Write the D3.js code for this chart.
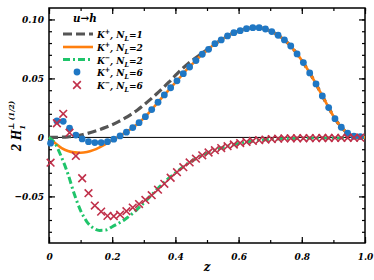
<!DOCTYPE html>
<html>
<head>
<meta charset="utf-8">
<script src="https://cdn.jsdelivr.net/npm/d3@7"></script>
<style>
body { margin: 0; background: #fff; }
</style>
</head>
<body>
<div id="chart"></div>
<script>
// line curves are sampled on zLine, symbols on zDots
var zLine = [0, 0.02, 0.04, 0.06, 0.08, 0.10, 0.12, 0.14, 0.16, 0.18, 0.20, 0.22, 0.24, 0.26, 0.28, 0.30,
    0.32, 0.34, 0.36, 0.38, 0.40, 0.42, 0.44, 0.46, 0.48, 0.50, 0.52, 0.54, 0.56, 0.58, 0.60, 0.62, 0.64,
    0.66, 0.68, 0.70, 0.72, 0.74, 0.76, 0.78, 0.80, 0.82, 0.84, 0.86, 0.88, 0.90, 0.92, 0.94, 0.96, 0.98, 1.00];

var kPlus1 = [0, 0, 0.0002, 0.0005, 0.001, 0.002, 0.0033, 0.0048, 0.0066, 0.0086, 0.0108, 0.0134, 0.0163,
    0.0196, 0.0233, 0.0275, 0.032, 0.0368, 0.0418, 0.047, 0.0525, 0.0578, 0.0625, 0.0667, 0.0705, 0.0742,
    0.0783, 0.0818, 0.0852, 0.0882, 0.0901, 0.0918, 0.0928, 0.0931, 0.0923, 0.0903, 0.0874, 0.0837, 0.0789,
    0.0725, 0.0653, 0.0569, 0.0477, 0.0377, 0.0278, 0.0181, 0.0102, 0.0046, 0.0015, 0.0005, 0];

var kPlus2 = [0, -0.005, -0.009, -0.0115, -0.0127, -0.013, -0.0124, -0.0108, -0.0084, -0.0055, -0.0024,
    0.0007, 0.0038, 0.0073, 0.0114, 0.0163, 0.0221, 0.0283, 0.0345, 0.0406, 0.0465, 0.0525, 0.0588, 0.0638,
    0.0692, 0.0737, 0.0783, 0.0818, 0.0852, 0.0882, 0.0901, 0.0918, 0.0928, 0.0931, 0.0923, 0.0903, 0.0874,
    0.0837, 0.0789, 0.0725, 0.0653, 0.0569, 0.0477, 0.0377, 0.0278, 0.0181, 0.0102, 0.0046, 0.0015, 0.0005, 0];

var kMinus2 = [0, -0.0055, -0.017, -0.031, -0.048, -0.062, -0.0715, -0.0768, -0.0788, -0.0785, -0.0757,
    -0.0728, -0.0695, -0.0655, -0.0607, -0.0555, -0.05, -0.0446, -0.0393, -0.0344, -0.03, -0.0258, -0.022,
    -0.0187, -0.0158, -0.0133, -0.0112, -0.0094, -0.0078, -0.0064, -0.0052, -0.0042, -0.0033, -0.0026,
    -0.002, -0.0016, -0.0013, -0.0011, -0.0009, -0.0008, -0.0007, -0.0006, -0.0006, -0.0005, -0.0005,
    -0.0004, -0.0004, -0.0003, -0.0002, -0.0001, 0];

var zDots = [0.005, 0.025, 0.045, 0.065, 0.085, 0.105, 0.125, 0.145, 0.165, 0.185, 0.205, 0.225, 0.245,
    0.265, 0.285, 0.305, 0.325, 0.345, 0.365, 0.385, 0.405, 0.425, 0.445, 0.465, 0.485, 0.505, 0.525, 0.545,
    0.565, 0.585, 0.605, 0.625, 0.645, 0.665, 0.685, 0.705, 0.725, 0.745, 0.765, 0.785, 0.805, 0.825, 0.845,
    0.865, 0.885, 0.905, 0.925, 0.945, 0.965, 0.985];

var kPlus6 = [-0.0049, 0.014, 0.0136, 0.0078, 0.002, -0.0013, -0.0036, -0.0044, -0.0044, -0.0036, -0.0015,
    0.0013, 0.0044, 0.0083, 0.0125, 0.0176, 0.0236, 0.0298, 0.036, 0.0421, 0.048, 0.054, 0.0597, 0.0651,
    0.0705, 0.0747, 0.0795, 0.0826, 0.086, 0.0888, 0.0905, 0.0922, 0.093, 0.093, 0.0919, 0.0897, 0.0866,
    0.0826, 0.0775, 0.0708, 0.0634, 0.0547, 0.0453, 0.0352, 0.0253, 0.0159, 0.0086, 0.0036, 0.001, 0.0007];

var kMinus6 = [-0.0214, 0.012, 0.02, 0.004, -0.0157, -0.0346, -0.0473, -0.0578, -0.0629, -0.0665, -0.0668,
    -0.0655, -0.0625, -0.0595, -0.0565, -0.053, -0.049, -0.0443, -0.0393, -0.0342, -0.0295, -0.0252, -0.0212,
    -0.018, -0.0152, -0.0128, -0.0108, -0.009, -0.0074, -0.006, -0.0048, -0.0038, -0.003, -0.0023, -0.0018,
    -0.0014, -0.0011, -0.0009, -0.0008, -0.0007, -0.0007, -0.0006, -0.0006, -0.0005, -0.0005, -0.0004,
    -0.0004, -0.0003, -0.0003, -0.0002];

var xTicks = [0, 0.2, 0.4, 0.6, 0.8, 1.0];
var xTickLabels = ["0", "0.2", "0.4", "0.6", "0.8", "1.0"];
var yTicks = [-0.05, 0, 0.05, 0.10];
var yTickLabels = ["\u22120.05", "0", "0.05", "0.10"];

var FONT = "'DejaVu Serif Condensed', 'DejaVu Serif', serif";

var width = 374, height = 280;
var margin = { left: 49, right: 9, top: 8, bottom: 37 };
var w = width - margin.left - margin.right;
var h = height - margin.top - margin.bottom;

var svg = d3.select("#chart").append("svg")
    .attr("width", width)
    .attr("height", height);

var g = svg.append("g")
    .attr("transform", "translate(" + margin.left + "," + margin.top + ")");

var x = d3.scaleLinear().domain([0, 1]).range([0, w]);
var y = d3.scaleLinear().domain([-0.0895, 0.1097]).range([h, 0]);

function serif(sel, size) {
    return sel.style("font-family", FONT).style("font-weight", "bold")
        .style("font-style", "italic").style("font-size", size + "px");
}

// Ticks (all inward, on all four sides)

var xMinor = d3.range(0, 1.0001, 0.1);
var yMinor = d3.range(-0.08, 0.1001, 0.01);

function tickAxis(axis, scale, values, size) {
    return axis(scale).tickValues(values).tickSize(size).tickFormat("");
}

g.append("g").attr("transform", "translate(0," + h + ")")
    .call(tickAxis(d3.axisBottom, x, xMinor, -3));
g.append("g").attr("transform", "translate(0," + h + ")")
    .call(d3.axisBottom(x).tickValues(xTicks).tickSize(-6).tickPadding(10)
        .tickFormat(function (d, i) { return xTickLabels[i]; }));
g.append("g").call(tickAxis(d3.axisTop, x, xMinor, -3));
g.append("g").call(tickAxis(d3.axisTop, x, xTicks, -6));

g.append("g").call(tickAxis(d3.axisLeft, y, yMinor, -3));
g.append("g").call(d3.axisLeft(y).tickValues(yTicks).tickSize(-6).tickPadding(5)
    .tickFormat(function (d, i) { return yTickLabels[i]; }));
g.append("g").attr("transform", "translate(" + w + ",0)")
    .call(tickAxis(d3.axisRight, y, yMinor, -3));
g.append("g").attr("transform", "translate(" + w + ",0)")
    .call(tickAxis(d3.axisRight, y, yTicks, -6));

g.selectAll(".domain").remove();
g.selectAll(".tick line").attr("stroke", "#000").attr("stroke-width", 1.2);
serif(g.selectAll(".tick text").attr("fill", "#000"), 10);

// frame and zero line
g.append("rect").attr("width", w).attr("height", h)
    .attr("fill", "none").attr("stroke", "#000").attr("stroke-width", 1.5);
g.append("line").attr("x1", 0).attr("x2", w).attr("y1", y(0)).attr("y2", y(0))
    .attr("stroke", "#000").attr("stroke-width", 1);

// Curves

var line = d3.line().curve(d3.curveMonotoneX)
    .x(function (d) { return x(d[0]); })
    .y(function (d) { return y(d[1]); });

var series = [
    { vals: kPlus1, color: "#555555", width: 3.2, dash: "9,4" },
    { vals: kPlus2, color: "#ff7f0e", width: 2.6, dash: null },
    { vals: kMinus2, color: "#1fc46a", width: 3, dash: "7,3,2,3" }
];

series.forEach(function (s) {
    g.append("path")
        .datum(zLine.map(function (z, i) { return [z, s.vals[i]]; }))
        .attr("d", line)
        .attr("fill", "none")
        .attr("stroke", s.color)
        .attr("stroke-width", s.width)
        .attr("stroke-dasharray", s.dash);
});

g.selectAll("circle.kp6").data(zDots).enter().append("circle")
    .attr("class", "kp6")
    .attr("cx", function (d) { return x(d); })
    .attr("cy", function (d, i) { return y(kPlus6[i]); })
    .attr("r", 3.4)
    .attr("fill", "#1f77c4");

var cross = d3.symbol().type(d3.symbolTimes).size(40);
g.selectAll("path.km6").data(zDots).enter().append("path")
    .attr("class", "km6")
    .attr("d", cross)
    .attr("transform", function (d, i) { return "translate(" + x(d) + "," + y(kMinus6[i]) + ")"; })
    .attr("fill", "none")
    .attr("stroke", "#c0304a")
    .attr("stroke-width", 1.6);

// Legend

var legend = svg.append("g");
serif(legend.append("text").attr("x", 73).attr("y", 22), 11.5).text("u\u2192h");

var rows = [
    { y: 34, type: "line", color: "#555555", width: 3.2, dash: "9,4", sup: "+", sub: "1" },
    { y: 47, type: "line", color: "#ff7f0e", width: 2.6, dash: null, sup: "+", sub: "2" },
    { y: 59.5, type: "line", color: "#1fc46a", width: 3, dash: "7,3,2,3", sup: "\u2212", sub: "2" },
    { y: 72, type: "dot", color: "#1f77c4", sup: "+", sub: "6" },
    { y: 85, type: "cross", color: "#c0304a", sup: "\u2212", sub: "6" }
];

rows.forEach(function (r) {
    if (r.type === "line") {
        legend.append("line").attr("x1", 63).attr("x2", 93).attr("y1", r.y).attr("y2", r.y)
            .attr("stroke", r.color).attr("stroke-width", r.width).attr("stroke-dasharray", r.dash);
    } else if (r.type === "dot") {
        legend.append("circle").attr("cx", 77).attr("cy", r.y).attr("r", 3.4).attr("fill", r.color);
    } else {
        legend.append("path").attr("d", cross).attr("fill", "none")
            .attr("stroke", r.color).attr("stroke-width", 1.6)
            .attr("transform", "translate(77," + r.y + ")");
    }
    var t = serif(legend.append("text").attr("x", 97).attr("y", r.y + 4), 10);
    t.append("tspan").text("K");
    t.append("tspan").attr("dy", -4).style("font-size", "7px").text(r.sup);
    t.append("tspan").attr("dy", 4).text(", N");
    t.append("tspan").attr("dy", 3).style("font-size", "7px").text("L");
    t.append("tspan").attr("dy", -3).text("=" + r.sub);
});

// Axis titles

serif(svg.append("text").attr("x", 207).attr("y", 271).attr("text-anchor", "middle"), 13).text("z");

var yl = serif(svg.append("text")
    .attr("transform", "translate(21,126) rotate(-90)")
    .attr("text-anchor", "middle"), 12);
yl.append("tspan").text("2 H");
yl.append("tspan").attr("dy", 4).style("font-size", "8px").text("1");
yl.append("tspan").attr("dx", -5).attr("dy", -11).style("font-size", "8px").text("\u22a5 (1/2)");
</script>
</body>
</html>
